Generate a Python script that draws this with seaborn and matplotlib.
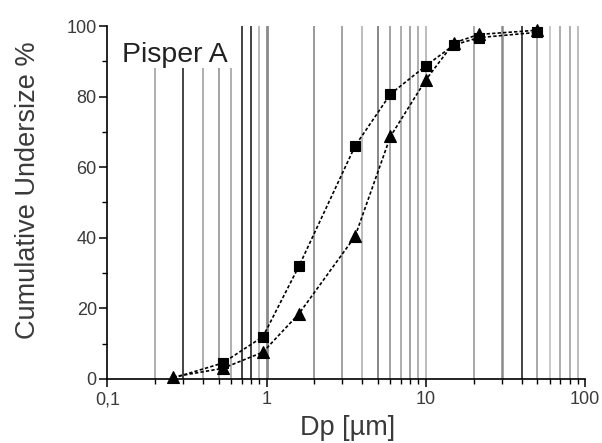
import numpy as np
import pandas as pd
import matplotlib
matplotlib.use("Agg")
import matplotlib.pyplot as plt
import matplotlib.ticker as mticker
from matplotlib.patches import Rectangle
import seaborn as sns

# ---- data ----
dp_um = [0.26, 0.53, 0.95, 1.6, 3.6, 6.0, 10.0, 15.0, 21.5, 50.0]
undersize_square = [0.3, 4.5, 12.0, 32.0, 66.0, 80.7, 88.7, 94.6, 96.7, 98.2]
undersize_triangle = [0.6, 3.0, 7.6, 18.5, 40.4, 68.7, 84.7, 95.2, 97.6, 98.8]

x_ticks = [0.1, 1, 10, 100]
x_tick_labels = ["0,1", "1", "10", "100"]
y_ticks = [0, 20, 40, 60, 80, 100]
y_tick_labels = ["0", "20", "40", "60", "80", "100"]

# vertical reference lines (log grid) with their grey shade as seen in the scan
grid_x = [0.2, 0.3, 0.4, 0.5, 0.6, 0.7, 0.8, 0.9, 1,
          2, 3, 4, 5, 6, 7, 8, 9, 10,
          20, 30, 40, 50, 60, 70, 80, 90]
grid_shade = ["#999999", "#111111", "#999999", "#8a8a8a", "#9a9a9a", "#111111", "#111111", "#aaaaaa", "#8a8a8a",
              "#999999", "#8a8a8a", "#aaaaaa", "#666666", "#8a8a8a", "#999999", "#8a8a8a", "#9a9a9a", "#aaaaaa",
              "#999999", "#8a8a8a", "#222222", "#999999", "#bbbbbb", "#999999", "#999999", "#aaaaaa"]
grid_width = [1.1, 1.1, 1.1, 1.1, 1.1, 1.1, 1.1, 1.1, 2.0,
              1.4, 1.1, 1.1, 1.1, 1.1, 1.1, 1.1, 1.1, 1.1,
              1.2, 1.8, 1.2, 1.2, 1.1, 1.1, 1.1, 1.1]

label_text = "Pisper A"

sns.set_theme(style="white")
plt.rcParams["font.family"] = ["Liberation Sans", "DejaVu Sans"]

fig = plt.figure(figsize=(6.02, 4.43), dpi=100)
ax = fig.add_axes([0.1782, 0.1445, 0.7935, 0.7968])

for gx, gc, gw in zip(grid_x, grid_shade, grid_width):
    ax.axvline(gx, color=gc, lw=gw, zorder=1)

ax.add_patch(Rectangle((0.0, 0.881), 0.2736, 0.125, transform=ax.transAxes,
                       facecolor="white", edgecolor="none", zorder=1.5, clip_on=False))

df_sq = pd.DataFrame({"Dp": dp_um, "U": undersize_square})
df_tr = pd.DataFrame({"Dp": dp_um, "U": undersize_triangle})

ls = (0, (2.0, 1.3))
sns.lineplot(data=df_tr, x="Dp", y="U", ax=ax, color="black", lw=1.2, linestyle=ls,
             marker="^", markersize=8, markerfacecolor="black", markeredgecolor="black",
             markeredgewidth=0.8, clip_on=False, zorder=3)
sns.lineplot(data=df_sq, x="Dp", y="U", ax=ax, color="black", lw=1.2, linestyle=ls,
             marker="s", markersize=7, markerfacecolor="black", markeredgecolor="black",
             markeredgewidth=0.8, markevery=list(range(1, len(dp_um))), clip_on=False, zorder=4)

ax.set_xscale("log")
ax.set_xlim(0.1, 100)
ax.set_ylim(0, 100)

ax.xaxis.set_major_locator(mticker.FixedLocator(x_ticks))
ax.xaxis.set_major_formatter(mticker.FixedFormatter(x_tick_labels))
ax.xaxis.set_minor_locator(mticker.LogLocator(base=10, subs=np.arange(2, 10), numticks=20))
ax.xaxis.set_minor_formatter(mticker.NullFormatter())
ax.yaxis.set_major_locator(mticker.FixedLocator(y_ticks))
ax.yaxis.set_major_formatter(mticker.FixedFormatter(y_tick_labels))
ax.yaxis.set_minor_locator(mticker.MultipleLocator(10))

for s in ["top", "right"]:
    ax.spines[s].set_visible(False)
for s in ["left", "bottom"]:
    ax.spines[s].set_visible(True)
    ax.spines[s].set_color("black")
    ax.spines[s].set_linewidth(1.2)
    ax.spines[s].set_zorder(5)

ax.tick_params(axis="both", which="major", direction="out", length=5.5, width=1.1,
               color="black", labelsize=13, labelcolor="#3a3a3a")
ax.tick_params(axis="both", which="minor", direction="out", length=3.5, width=1.0, color="black")
ax.tick_params(axis="x", which="major", pad=3.5)
ax.tick_params(axis="y", which="major", pad=2)
ax.tick_params(bottom=True, left=True, which="both")

ax.set_xlabel("Dp [\u00b5m]", fontsize=19.5, color="#3a3a3a")
ax.set_ylabel("Cumulative Undersize %", fontsize=19.5, color="#3a3a3a")
ax.xaxis.set_label_coords(0.503, -0.103)
ax.yaxis.set_label_coords(-0.139, 0.535)

ax.text(0.031, 0.898, label_text, transform=ax.transAxes, fontsize=20.5,
        color="#222222", ha="left", va="baseline", zorder=6)

fig.savefig("out.png", dpi=100)
